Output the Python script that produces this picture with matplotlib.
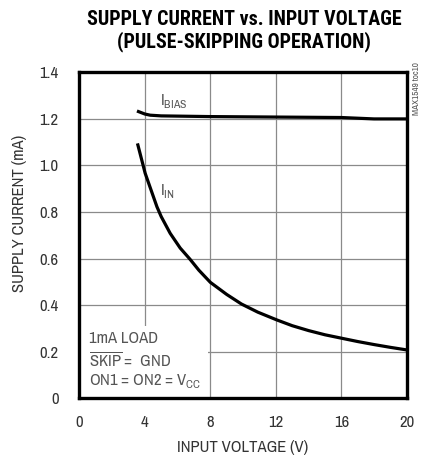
import matplotlib
matplotlib.use("Agg")
import matplotlib.pyplot as plt
import matplotlib.patches as mpatches
from matplotlib import font_manager as fm

# values
vin_bias = [3.52, 4.0, 4.33, 5.0, 8.0, 10.0, 12.0, 14.0, 16.0, 17.0, 18.0, 20.0]
i_bias = [1.233, 1.22, 1.215, 1.212, 1.209, 1.208, 1.207, 1.206, 1.205, 1.202, 1.199, 1.199]

vin_in = [3.55, 4.02, 4.4, 4.74, 5.0, 5.55, 6.16, 6.76, 7.3, 8.0, 9.0, 9.9, 10.9,
          12.05, 13.0, 14.0, 15.0, 16.1, 17.0, 18.0, 19.0, 20.0]
i_in = [1.094, 0.966, 0.89, 0.822, 0.78, 0.708, 0.645, 0.597, 0.55, 0.498, 0.446, 0.405, 0.37,
        0.337, 0.312, 0.291, 0.273, 0.257, 0.244, 0.231, 0.219, 0.208]

xticks = [0, 4, 8, 12, 16, 20]
yticks = [0, 0.2, 0.4, 0.6, 0.8, 1.0, 1.2, 1.4]
ytick_labels = ["0", "0.2", "0.4", "0.6", "0.8", "1.0", "1.2", "1.4"]


def first_font(names):
    for n in names:
        try:
            fm.findfont(fm.FontProperties(family=n), fallback_to_default=False)
            return n
        except ValueError:
            pass
    return "DejaVu Sans"


BODY = first_font(["Liberation Sans Narrow", "Archivo Narrow", "Roboto Condensed"])
BOLD = first_font(["Liberation Sans Narrow", "Roboto Condensed", "Archivo Narrow", "Asap Condensed"])
plt.rcParams.update({
    "font.family": [BODY, "DejaVu Sans"],
    "mathtext.fontset": "custom",
    "mathtext.rm": BODY,
})
TXT = "#555555"
FS = 12

fig = plt.figure(figsize=(4.22, 4.59), dpi=100)
ax = fig.add_axes([0.188, 0.132, 0.776, 0.711])

ax.plot(vin_bias, i_bias, color="black", lw=2.3, solid_capstyle="butt", zorder=3)
ax.plot(vin_in, i_in, color="black", lw=2.3, solid_capstyle="butt", zorder=3)

ax.set_xlim(0, 20); ax.set_ylim(0, 1.4)
ax.set_xticks(xticks); ax.set_yticks(yticks)
ax.set_yticklabels(ytick_labels)
ax.tick_params(length=0, labelsize=FS, colors="#333333")
ax.tick_params(axis="x", pad=12)
ax.tick_params(axis="y", pad=15)
ax.grid(True, color="#8a8a8a", lw=0.9, zorder=1)
for s in ax.spines.values():
    s.set_linewidth(2.4); s.set_zorder(4)

ax.set_xlabel("INPUT VOLTAGE (V)", fontsize=FS, color="#333333", labelpad=7)
ax.set_ylabel("SUPPLY CURRENT (mA)", fontsize=FS, color="#333333")
ax.yaxis.set_label_coords(-0.16, 0.567)

# white box with test conditions
ax.add_patch(mpatches.Rectangle((0, 0), 7.85, 0.31, facecolor="white", edgecolor="none", zorder=2))
ax.text(0.6, 0.255, "1mA LOAD", fontsize=FS, color=TXT, va="center", zorder=3)
ax.text(0.6, 0.165, r"$\overline{\mathregular{SKIP}}$ =  GND", fontsize=FS, color=TXT, va="center", zorder=3)
ax.text(0.6, 0.075, r"ON1 = ON2 = V$_{\mathregular{CC}}$", fontsize=FS, color=TXT, va="center", zorder=3)

ax.text(4.95, 1.275, r"I$_{\mathregular{BIAS}}$", fontsize=FS, color=TXT, va="center")
ax.text(4.9, 0.89, r"I$_{\mathregular{IN}}$", fontsize=FS, color=TXT, va="center")

fig.text(0.986, 0.865, "MAX1549 toc10", rotation=90, fontsize=6.5, color="#555555", ha="center", va="top")

fig.text(0.578, 0.958, "SUPPLY CURRENT vs. INPUT VOLTAGE", fontsize=14.4, fontweight="bold",
         family=[BOLD, "DejaVu Sans"], ha="center", va="center")
fig.text(0.578, 0.909, "(PULSE-SKIPPING OPERATION)", fontsize=14.4, fontweight="bold",
         family=[BOLD, "DejaVu Sans"], ha="center", va="center")

fig.savefig("out.png", dpi=100)
